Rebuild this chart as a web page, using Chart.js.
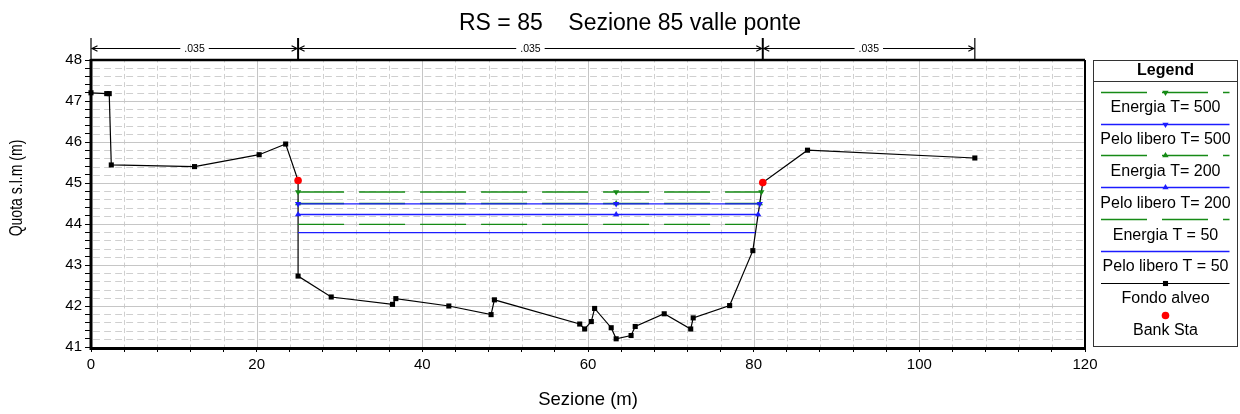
<!DOCTYPE html>
<html>
<head>
<meta charset="utf-8">
<script src="https://cdn.jsdelivr.net/npm/chart.js@4.4.1/dist/chart.umd.min.js"></script>
<style>
html,body{margin:0;padding:0;background:#ffffff;}
#wrap{width:1240px;height:414px;position:relative;}
canvas{display:block;}
</style>
</head>
<body>
<div id="wrap"><canvas id="c" width="1240" height="414"></canvas></div>
<script>
const FONT = '"Liberation Sans", Arial, Helvetica, sans-serif';

// ---------- texts ----------
const chartTitle = 'RS = 85    Sezione 85 valle ponte';
const xAxisTitle = 'Sezione (m)';
const yAxisTitle = 'Quota s.l.m (m)';
const legendTitle = 'Legend';
const seriesLabels = ['Energia T= 500', 'Pelo libero T= 500', 'Energia T= 200', 'Pelo libero T= 200',
                      'Energia T = 50', 'Pelo libero T = 50', 'Fondo alveo', 'Bank Sta'];

// ---------- tick labels ----------
const xTickLabels = [0, 20, 40, 60, 80, 100, 120];
const yTickLabels = [41, 42, 43, 44, 45, 46, 47, 48];

// ---------- ground profile ----------
const groundX = [0, 1.9, 2.2, 2.45, 12.5, 20.3, 23.5, 25.0, 25.0, 29.0, 36.4, 36.8, 43.2, 48.3, 48.7,
                 59.0, 59.6, 60.4, 60.8, 62.8, 63.4, 65.2, 65.7, 69.2, 72.4, 72.7, 77.1, 79.9, 81.1, 86.5, 106.7];
const groundY = [47.20, 47.18, 47.18, 45.44, 45.40, 45.69, 45.95, 45.06, 42.73, 42.22, 42.04, 42.18, 42.00, 41.79, 42.15,
                 41.56, 41.44, 41.62, 41.94, 41.47, 41.20, 41.28, 41.50, 41.81, 41.44, 41.71, 42.01, 43.35, 45.01, 45.80, 45.61];

// ---------- bank stations ----------
const bankX = [25.0, 81.1];
const bankY = [45.06, 45.01];

// ---------- water surfaces / energy lines ----------
const energyT500X = [25.0, 63.4, 80.93];
const energyT500Y = [44.78, 44.78, 44.78];
const wsT500X = [25.0, 63.4, 80.74];
const wsT500Y = [44.49, 44.49, 44.49];
const energyT200X = [25.0, 63.4, 80.75];
const energyT200Y = [44.50, 44.50, 44.50];
const wsT200X = [25.0, 63.4, 80.55];
const wsT200Y = [44.23, 44.23, 44.23];
const energyT50X = [25.0, 80.32];
const energyT50Y = [43.99, 43.99];
const wsT50X = [25.0, 80.2];
const wsT50Y = [43.79, 43.79];

// ---------- Manning n zones ----------
const nStations = [0, 25.0, 81.1, 106.7];
const nValues = ['.035', '.035', '.035'];

const GREEN = 'rgb(22,138,22)';
const BLUE = 'rgb(28,28,255)';

function pts(xs, ys) { return xs.map((x, i) => ({ x: x, y: ys[i] })); }

function lineSet(label, xs, ys, color, dashed, style, rot, order) {
  return {
    label: label,
    data: pts(xs, ys),
    showLine: true,
    borderColor: color,
    backgroundColor: color,
    borderWidth: 1.4,
    borderDash: dashed ? [46, 15] : [],
    pointStyle: style || 'circle',
    pointRadius: style ? 3.6 : 0,
    pointRotation: rot || 0,
    pointBorderWidth: 0,
    pointBackgroundColor: color,
    pointHoverRadius: 0,
    order: order,
    clip: false
  };
}

const datasets = [
  lineSet(seriesLabels[0], energyT500X, energyT500Y, GREEN, true, 'triangle', 180, 2),
  lineSet(seriesLabels[1], wsT500X, wsT500Y, BLUE, false, 'triangle', 180, 1),
  lineSet(seriesLabels[2], energyT200X, energyT200Y, GREEN, true, 'triangle', 0, 4),
  lineSet(seriesLabels[3], wsT200X, wsT200Y, BLUE, false, 'triangle', 0, 3),
  lineSet(seriesLabels[4], energyT50X, energyT50Y, GREEN, true, null, 0, 6),
  lineSet(seriesLabels[5], wsT50X, wsT50Y, BLUE, false, null, 0, 5),
  {
    label: seriesLabels[6], data: pts(groundX, groundY), showLine: true,
    borderColor: '#000', backgroundColor: '#000', borderWidth: 1.2,
    pointStyle: 'rect', pointRadius: 3.6, pointBorderWidth: 0, pointBackgroundColor: '#000',
    pointHoverRadius: 0, order: 7, clip: false
  },
  {
    label: seriesLabels[7], data: pts(bankX, bankY), showLine: false,
    borderColor: '#ff0000', backgroundColor: '#ff0000',
    pointStyle: 'circle', pointRadius: 3.8, pointBorderWidth: 0, pointBackgroundColor: '#ff0000',
    pointHoverRadius: 0, order: 0, clip: false
  }
];

const near = (v, arr) => arr.some(a => Math.abs(a - v) < 1e-6);

// ---------- custom grid (HEC-RAS style) ----------
const gridPlugin = {
  id: 'hecGrid',
  beforeDatasetsDraw(chart) {
    const { ctx, chartArea: a, scales: { x: xs, y: ys } } = chart;
    ctx.save();
    ctx.beginPath();
    ctx.rect(a.left, a.top, a.right - a.left, a.bottom - a.top);
    ctx.clip();
    ctx.lineWidth = 1;
    ctx.strokeStyle = '#cfcfcf';
    const py0 = ys.getPixelForValue(41), py1 = ys.getPixelForValue(41.2);
    const ystep = Math.abs(py0 - py1);
    const px0 = xs.getPixelForValue(0), px1 = xs.getPixelForValue(4);
    const xstep = Math.abs(px1 - px0) / 3;
    // minor horizontal
    const hd = xstep * 0.62;
    ctx.setLineDash([hd, xstep - hd]);
    ctx.lineDashOffset = -(xstep - hd) / 2;
    ys.ticks.forEach(t => {
      if (near(t.value, yTickLabels)) return;
      const py = Math.round(ys.getPixelForValue(t.value)) + 0.5;
      ctx.beginPath(); ctx.moveTo(a.left, py); ctx.lineTo(a.right, py); ctx.stroke();
    });
    // minor vertical
    const vd = ystep * 0.6;
    ctx.setLineDash([vd, ystep - vd]);
    ctx.lineDashOffset = vd / 2;
    xs.ticks.forEach(t => {
      if (near(t.value, xTickLabels)) return;
      const px = Math.round(xs.getPixelForValue(t.value)) + 0.5;
      ctx.beginPath(); ctx.moveTo(px, a.top); ctx.lineTo(px, a.bottom); ctx.stroke();
    });
    // major solid
    ctx.setLineDash([]);
    ctx.lineDashOffset = 0;
    ctx.strokeStyle = '#c6c6c6';
    ys.ticks.forEach(t => {
      if (!near(t.value, yTickLabels)) return;
      const py = Math.round(ys.getPixelForValue(t.value)) + 0.5;
      ctx.beginPath(); ctx.moveTo(a.left, py); ctx.lineTo(a.right, py); ctx.stroke();
    });
    xs.ticks.forEach(t => {
      if (!near(t.value, xTickLabels)) return;
      const px = Math.round(xs.getPixelForValue(t.value)) + 0.5;
      ctx.beginPath(); ctx.moveTo(px, a.top); ctx.lineTo(px, a.bottom); ctx.stroke();
    });
    ctx.restore();

    // frame
    ctx.save();
    ctx.strokeStyle = '#000';
    ctx.lineWidth = 3;
    ctx.beginPath(); ctx.moveTo(a.left, a.top - 1); ctx.lineTo(a.left, a.bottom + 1.5); ctx.lineTo(a.right + 1, a.bottom + 1.5); ctx.stroke();
    ctx.lineWidth = 2.5;
    ctx.beginPath(); ctx.moveTo(a.left, a.top); ctx.lineTo(a.right, a.top); ctx.stroke();
    ctx.lineWidth = 2;
    ctx.beginPath(); ctx.moveTo(a.right, a.top); ctx.lineTo(a.right, a.bottom); ctx.stroke();
    ctx.restore();
  }
};

// ---------- Manning n annotation above the plot ----------
function arrowHead(ctx, x, y, dir) {
  ctx.beginPath();
  ctx.moveTo(x + dir * 5.5, y - 2.8);
  ctx.lineTo(x, y);
  ctx.lineTo(x + dir * 5.5, y + 2.8);
  ctx.stroke();
}
const manningPlugin = {
  id: 'manning',
  afterDraw(chart) {
    const { ctx, chartArea: a, scales: { x: xs } } = chart;
    const yl = 48.5, yTop = 38;
    ctx.save();
    ctx.strokeStyle = '#000';
    ctx.fillStyle = '#000';
    nStations.forEach((s, i) => {
      const px = xs.getPixelForValue(s);
      const inner = i > 0 && i < nStations.length - 1;
      ctx.lineWidth = inner ? 2 : 1.2;
      ctx.beginPath(); ctx.moveTo(px, yTop); ctx.lineTo(px, a.top); ctx.stroke();
    });
    ctx.font = '10.5px ' + FONT;
    ctx.textAlign = 'center';
    ctx.textBaseline = 'middle';
    nValues.forEach((v, i) => {
      const p1 = xs.getPixelForValue(nStations[i]) + 1;
      const p2 = xs.getPixelForValue(nStations[i + 1]) - 1;
      const cx = (p1 + p2) / 2;
      const w = ctx.measureText(v).width + 8;
      ctx.lineWidth = 1.1;
      ctx.beginPath();
      ctx.moveTo(p1, yl); ctx.lineTo(cx - w / 2, yl);
      ctx.moveTo(cx + w / 2, yl); ctx.lineTo(p2, yl);
      ctx.stroke();
      arrowHead(ctx, p1, yl, 1);
      arrowHead(ctx, p2, yl, -1);
      ctx.fillText(v, cx, yl + 0.5);
    });
    ctx.restore();
  }
};

// ---------- titles ----------
const titlePlugin = {
  id: 'titles',
  afterDraw(chart) {
    const { ctx } = chart;
    ctx.save();
    ctx.fillStyle = '#000';
    ctx.font = '23px ' + FONT;
    ctx.textAlign = 'center';
    ctx.textBaseline = 'alphabetic';
    ctx.fillText(chartTitle, 630, 30);
    // y axis title
    ctx.translate(17, 188);
    ctx.rotate(-Math.PI / 2);
    ctx.scale(0.78, 1);
    ctx.font = '18px ' + FONT;
    ctx.textBaseline = 'middle';
    ctx.fillText(yAxisTitle, 0, 0);
    ctx.restore();
  }
};

// ---------- legend box ----------
function marker(ctx, style, rot, r, x, y, color) {
  ctx.save();
  ctx.fillStyle = color;
  ctx.translate(x, y);
  ctx.rotate((rot || 0) * Math.PI / 180);
  ctx.beginPath();
  if (style === 'rect') {
    const s = r * Math.SQRT1_2;
    ctx.rect(-s, -s, 2 * s, 2 * s);
  } else if (style === 'triangle') {
    ctx.moveTo(0, -r);
    ctx.lineTo(r * 0.866, r * 0.5);
    ctx.lineTo(-r * 0.866, r * 0.5);
    ctx.closePath();
  } else {
    ctx.arc(0, 0, r, 0, Math.PI * 2);
  }
  ctx.fill();
  ctx.restore();
}
const legendPlugin = {
  id: 'boxLegend',
  afterDraw(chart) {
    const { ctx } = chart;
    const L = 1093.5, R = 1237.5, T = 60.5, B = 346.5;
    const cx = (L + R) / 2;
    ctx.save();
    ctx.strokeStyle = '#333';
    ctx.lineWidth = 1;
    ctx.strokeRect(L, T, R - L, B - T);
    ctx.beginPath(); ctx.moveTo(L, 81.5); ctx.lineTo(R, 81.5); ctx.stroke();
    ctx.fillStyle = '#000';
    ctx.textAlign = 'center';
    ctx.textBaseline = 'middle';
    ctx.font = 'bold 16px ' + FONT;
    ctx.fillText(legendTitle, cx, 71);
    ctx.font = '16px ' + FONT;
    chart.data.datasets.forEach((ds, i) => {
      const ly = Math.round(91.7 + 31.85 * i) + 0.5;
      const ty = 107.8 + 31.85 * i;
      if (ds.showLine) {
        ctx.save();
        ctx.strokeStyle = ds.borderColor;
        ctx.lineWidth = ds.borderWidth;
        ctx.setLineDash(ds.borderDash || []);
        ctx.beginPath(); ctx.moveTo(1101, ly); ctx.lineTo(1229.5, ly); ctx.stroke();
        ctx.restore();
      }
      if (ds.pointRadius > 0) marker(ctx, ds.pointStyle, ds.pointRotation, ds.pointRadius, cx, ly, ds.pointBackgroundColor);
      ctx.fillStyle = '#000';
      ctx.fillText(ds.label, cx, ty);
    });
    ctx.restore();
  }
};

const tickCallback = (labels) => (v) => {
  const r = Math.round(v);
  return (Math.abs(v - r) < 1e-6 && labels.includes(r)) ? String(r) : '';
};

new Chart(document.getElementById('c'), {
  type: 'scatter',
  data: { datasets: datasets },
  options: {
    responsive: false,
    animation: false,
    devicePixelRatio: 1,
    events: [],
    layout: { padding: { left: 0, right: 155, top: 60, bottom: 0 } },
    plugins: { legend: { display: false }, title: { display: false }, tooltip: { enabled: false } },
    elements: { line: { tension: 0 } },
    scales: {
      x: {
        type: 'linear', position: 'bottom', min: 0, max: 120,
        afterFit: (s) => { s.height = 67; },
        ticks: { stepSize: 4, autoSkip: false, maxRotation: 0, minRotation: 0, padding: 4, color: '#000',
                 font: { family: FONT, size: 15 }, callback: tickCallback(xTickLabels) },
        grid: { display: true, drawOnChartArea: false, drawTicks: true, tickLength: 5, tickColor: '#000', tickWidth: 1 },
        border: { display: false },
        title: { display: true, text: xAxisTitle, color: '#000', font: { family: FONT, size: 18.5 }, padding: { top: 0, bottom: 3 } }
      },
      y: {
        type: 'linear', position: 'left', min: 41, max: 48,
        afterFit: (s) => { s.width = 91; },
        ticks: { stepSize: 0.2, autoSkip: false, padding: 3, color: '#000',
                 font: { family: FONT, size: 15 }, callback: tickCallback(yTickLabels) },
        grid: { display: true, drawOnChartArea: false, drawTicks: true, tickLength: 6, tickColor: '#000', tickWidth: 1 },
        border: { display: false },
        title: { display: false }
      }
    }
  },
  plugins: [gridPlugin, manningPlugin, titlePlugin, legendPlugin]
});
</script>
</body>
</html>
